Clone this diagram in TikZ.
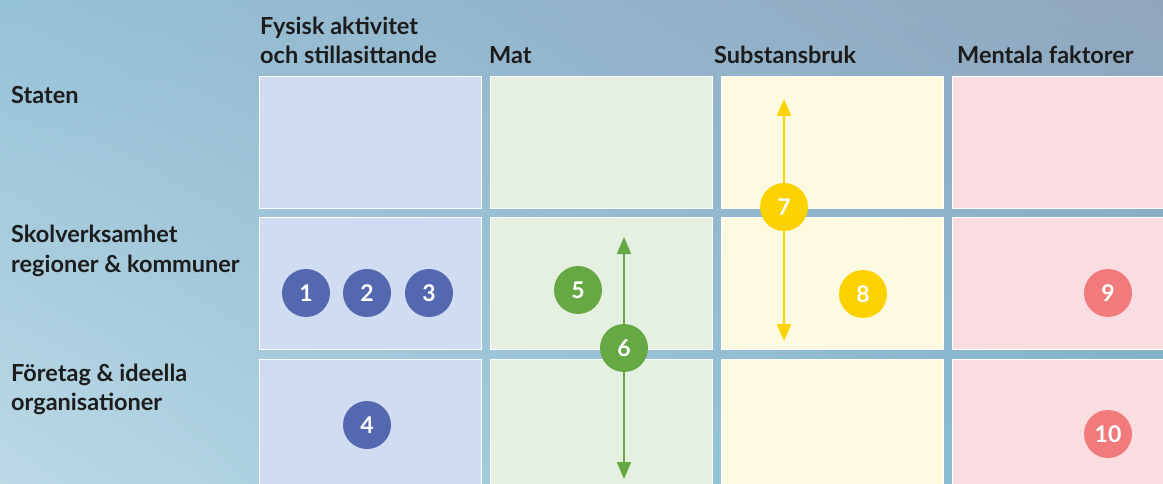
\documentclass[tikz,border=0pt]{standalone}
\usepackage{fontspec}
\setmainfont{Lato}
\usetikzlibrary{arrows.meta,shadings}

\definecolor{ink}{HTML}{1C1C1C}
\definecolor{bgUL}{HTML}{95C1D7}
\definecolor{bgUR}{HTML}{91A6BE}
\definecolor{bgLL}{HTML}{BCD9E6}
\definecolor{bgLR}{HTML}{7CB6CE}
\definecolor{fysfill}{HTML}{D0DCF2}
\definecolor{matfill}{HTML}{E5F0E1}
\definecolor{subfill}{HTML}{FEF9E1}
\definecolor{menfill}{HTML}{FADDE0}
\definecolor{fysdot}{HTML}{5468B0}
\definecolor{matdot}{HTML}{66A844}
\definecolor{subdot}{HTML}{FCD200}
\definecolor{mendot}{HTML}{F07A7C}

\tikzstyle{cell}=[draw=white, line width=1.2pt, minimum width=222pt, minimum height=132pt, anchor=north west, inner sep=0pt]
\tikzstyle{num}=[circle, minimum size=48pt, inner sep=0pt, text=white, font=\bfseries\fontsize{23}{23}\selectfont]
\tikzstyle{head}=[anchor=base west, align=left, inner sep=0pt, text=ink, font=\bfseries\fontsize{23.5}{29}\selectfont]
\tikzstyle{link}=[line width=2pt, -{Triangle[width=14pt,length=17pt]}]

\begin{document}
\begin{tikzpicture}[x=1pt,y=-1pt]
\useasboundingbox (0,0) rectangle (1163,484);
\clip (0,0) rectangle (1163,484);
\shade[upper left=bgUL, upper right=bgUR, lower left=bgLL, lower right=bgLR] (0,0) rectangle (1163,484);

% column heads (base = last line)
\node[head] (hfys) at (260,64) {Fysisk aktivitet\\och stillasittande};
\node[head] (hmat) at (489,64) {Mat};
\node[head] (hsub) at (714,64) {Substansbruk};
\node[head] (hmen) at (957,64) {Mentala faktorer};

% row heads
\node[head] (rstat) at (11,104) {Staten};
\node[head] (rskol) at (11,272) {Skolverksamhet\\regioner \& kommuner};
\node[head] (rfor) at (11,410) {Företag \& ideella\\organisationer};

% grid
\foreach \col/\x/\c in {fys/259/fysfill, mat/490/matfill, sub/721/subfill, men/952/menfill}
  \foreach \row/\y in {1/76, 2/217, 3/359}
    \node[cell, fill=\c] (\col\row) at (\x,\y) {};

% numbered actors
\node[num, fill=fysdot] (n1) at (306,293) {1};
\node[num, fill=fysdot] (n2) at (367,293) {2};
\node[num, fill=fysdot] (n3) at (429,293) {3};
\node[num, fill=fysdot] (n4) at (367,425) {4};
\node[num, fill=matdot] (n5) at (578,290) {5};
\node[num, fill=mendot] (n9) at (1108,293) {9};
\node[num, fill=mendot] (n10) at (1108,434) {10};
\node[num, fill=subdot] (n8) at (863,294) {8};

% arrows through 6 and 7
\coordinate (gtop) at (624,237);
\coordinate (gbot) at (624,479);
\coordinate (ytop) at (784,99);
\coordinate (ybot) at (784,341);
\node[num, fill=matdot] (n6) at (624,348) {6};
\node[num, fill=subdot] (n7) at (784,207) {7};
\draw[link, matdot] (n6) -- (gtop);
\draw[link, matdot] (n6) -- (gbot);
\draw[link, subdot] (n7) -- (ytop);
\draw[link, subdot] (n7) -- (ybot);
\end{tikzpicture}
\end{document}
